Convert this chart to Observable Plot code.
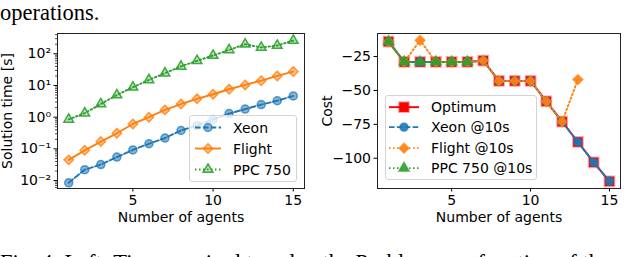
<!DOCTYPE html>
<html><head><meta charset="utf-8">
<script src="https://cdn.jsdelivr.net/npm/d3@7"></script>
<script src="https://cdn.jsdelivr.net/npm/@observablehq/plot@0.6"></script>
<style>
body{margin:0;background:#fff;}
#page{position:relative;width:640px;height:257px;overflow:hidden;background:#fff;}
.legend{position:absolute;background:rgba(255,255,255,0.8);border:1px solid #d4d4d4;border-radius:3px;font:14px "DejaVu Sans",sans-serif;color:#000;box-sizing:border-box;}
.row{display:flex;align-items:center;white-space:nowrap;}
.row svg{display:block;}
</style></head><body><div id="page"></div>
<script>
// ---------- data ----------
const agents = [1,2,3,4,5,6,7,8,9,10,11,12,13,14,15];
const xeonTime   = [0.0085,0.022,0.032,0.055,0.093,0.145,0.22,0.38,0.55,0.85,1.3,1.8,2.5,3.3,4.7];
const flightTime = [0.045,0.09,0.17,0.31,0.61,1.0,1.7,2.6,3.8,5.3,7.6,10.4,14.2,20,27.5];
const ppcTime    = [0.85,1.34,2.6,5.0,8.8,15,24.5,40,60,88,133,200,158,182,262];
const optimumCost  = [-14,-29,-29,-29,-29,-29,-28,-43,-43,-43,-58,-73,-88,-103,-117];
const xeonCost10   = [-14,-29,-29,-29,-29,-29,-28,-43,-43,-43,-58,-73,-88,-103,-117];
const flightCost10 = [-14,-29,-13,-29,-29,-29,-28,-43,-43,-43,-58,-73,-42];
const ppcCost10    = [-14,-29,-29,-29,-29,-29];
const leftNames  = ["Xeon","Flight","PPC 750"];
const rightNames = ["Optimum","Xeon @10s","Flight @10s","PPC 750 @10s"];
const xTicks = [5,10,15];
const timeTicks = [1e-2,1e-1,1,10,100];
const timeTickLabels = ["10⁻²","10⁻¹","10⁰","10¹","10²"];
const costTicks = [-100,-75,-50,-25];
const costTickLabels = ["−100","−75","−50","−25"];
const topText = "operations.";
const captionText = "Fig. 4: Left: Time required to solve the Problem as a function of the";

// ---------- styles ----------
const BLUE="#1f77b4", ORANGE="#ff7f0e", GREEN="#2ca02c", RED="#ff0000";
const leftStyles = [
  {color:BLUE, symbol:"circle", r:4, dash:"5.5,2.4", fillOpacity:0.55, strokeOpacity:0.7},
  {color:ORANGE, symbol:"diamond2", r:4.2, dash:null, fillOpacity:0.45, strokeOpacity:0.8},
  {color:GREEN, symbol:"triangle", r:3.6, dash:"1.5,2.5", fillOpacity:0.3, strokeOpacity:0.9}
];
const rightStyles = [
  {color:RED, symbol:"square", r:5.4, dash:null, fillOpacity:1, strokeOpacity:0.35, sw:2.2},
  {color:BLUE, symbol:"circle", r:4.2, dash:"5.5,2.4", fillOpacity:0.9, strokeOpacity:0.5},
  {color:ORANGE, symbol:"diamond2", r:4.6, dash:"1.5,2.5", fillOpacity:0.9, strokeOpacity:0.5},
  {color:GREEN, symbol:"triangle", r:4, dash:"1.5,2.5", fillOpacity:0.9, strokeOpacity:0.5}
];

function rows(ys){ return ys.map((y,i)=>({x:agents[i], y})); }
function seriesMarks(data, s){
  return [
    Plot.line(data,{x:"x",y:"y",stroke:s.color,strokeWidth:1.9,strokeDasharray:s.dash||undefined}),
    Plot.dot(data,{x:"x",y:"y",symbol:s.symbol,r:s.r,fill:s.color,fillOpacity:s.fillOpacity,
      stroke:s.color,strokeOpacity:s.strokeOpacity,strokeWidth:s.sw||1.5})
  ];
}
const baseStyle = {fontFamily:"DejaVu Sans", fontSize:"14px", background:"transparent", color:"#000", overflow:"visible"};

// minor log ticks (axis decoration)
const minorTicks = [];
for (let e=-3;e<=2;e++) for (let k=2;k<=9;k++){ const v=k*10**e; if (v>10**-2.25 && v<10**2.64) minorTicks.push(v); }

const left = Plot.plot({
  width:320, height:230, marginLeft:57, marginRight:16, marginTop:33, marginBottom:42,
  style:baseStyle,
  x:{domain:[0.3,15.7]},
  y:{type:"log", domain:[10**-2.25, 10**2.64]},
  marks:[
    Plot.axisY(minorTicks,{tickSize:2, strokeWidth:0.7, tickFormat:()=>"", label:null}),
    Plot.axisY({ticks:timeTicks, tickSize:3.5, tickPadding:3, tickFormat:d=>timeTickLabels[timeTicks.indexOf(d)],
      label:"Solution time [s]", labelAnchor:"center", labelArrow:"none", labelOffset:55}),
    Plot.axisX({ticks:xTicks, tickSize:3.5, tickPadding:3, label:"Number of agents", labelAnchor:"center", labelArrow:"none", labelOffset:33}),
    ...seriesMarks(rows(xeonTime), leftStyles[0]),
    ...seriesMarks(rows(flightTime), leftStyles[1]),
    ...seriesMarks(rows(ppcTime), leftStyles[2]),
    Plot.frame({stroke:"#222", strokeWidth:1})
  ]
});
const right = Plot.plot({
  width:320, height:230, marginLeft:57, marginRight:20, marginTop:33, marginBottom:42,
  style:baseStyle,
  x:{domain:[0.3,15.7]},
  y:{domain:[-122.3,-8.0]},
  marks:[
    Plot.axisY({ticks:costTicks, tickSize:3.5, tickPadding:3, tickFormat:d=>costTickLabels[costTicks.indexOf(d)],
      label:"Cost", labelAnchor:"center", labelArrow:"none", labelOffset:55}),
    Plot.axisX({ticks:xTicks, tickSize:3.5, tickPadding:3, label:"Number of agents", labelAnchor:"center", labelArrow:"none", labelOffset:33}),
    ...seriesMarks(rows(optimumCost), rightStyles[0]),
    ...seriesMarks(rows(xeonCost10), rightStyles[1]),
    ...seriesMarks(rows(flightCost10), rightStyles[2]),
    ...seriesMarks(rows(ppcCost10), rightStyles[3]),
    Plot.frame({stroke:"#222", strokeWidth:1})
  ]
});

const page = document.getElementById("page");
// text around the figure
const ns="http://www.w3.org/2000/svg";
const txt = document.createElementNS(ns,"svg");
txt.setAttribute("width",640); txt.setAttribute("height",257);
txt.style.position="absolute"; txt.style.left="0"; txt.style.top="0";
function addText(s,x,y){ const t=document.createElementNS(ns,"text"); t.setAttribute("x",x); t.setAttribute("y",y);
  t.setAttribute("font-family","Liberation Serif, serif"); t.setAttribute("font-size","22.5px"); t.textContent=s; txt.appendChild(t); }
addText(topText,0,20);
addText(captionText,0,269.5);
page.appendChild(txt);

left.style.position="absolute"; left.style.left="0px"; left.style.top="0px";
right.style.position="absolute"; right.style.left="320px"; right.style.top="0px";
page.appendChild(left); page.appendChild(right);

function legend(names, styles, box){
  const div=document.createElement("div"); div.className="legend";
  Object.assign(div.style,{left:box.x+"px",top:box.y+"px",width:box.w+"px",padding:box.pad+"px 0"});
  names.forEach((n,i)=>{
    const s=styles[i];
    const row=document.createElement("div"); row.className="row"; row.style.height=box.rowH+"px";
    const sw=document.createElementNS(ns,"svg"); sw.setAttribute("width",box.sampleW+box.sx+box.gap); sw.setAttribute("height",box.rowH);
    const cy=box.rowH/2, x0=box.sx, x1=box.sx+box.sampleW;
    const ln=document.createElementNS(ns,"line");
    ln.setAttribute("x1",x0); ln.setAttribute("x2",x1); ln.setAttribute("y1",cy); ln.setAttribute("y2",cy);
    ln.setAttribute("stroke",s.color); ln.setAttribute("stroke-width",1.9); if(s.dash) ln.setAttribute("stroke-dasharray",s.dash);
    sw.appendChild(ln);
    const symMap={circle:d3.symbolCircle,diamond2:d3.symbolDiamond2,triangle:d3.symbolTriangle,square:d3.symbolSquare};
    const p=document.createElementNS(ns,"path");
    p.setAttribute("d",d3.symbol(symMap[s.symbol], Math.PI*s.r*s.r)());
    p.setAttribute("transform",`translate(${(x0+x1)/2},${cy})`);
    p.setAttribute("fill",s.color); p.setAttribute("fill-opacity",s.fillOpacity);
    p.setAttribute("stroke",s.color); p.setAttribute("stroke-opacity",s.strokeOpacity); p.setAttribute("stroke-width",s.sw||1.5);
    sw.appendChild(p);
    row.appendChild(sw);
    const sp=document.createElement("span"); sp.textContent=n; row.appendChild(sp);
    div.appendChild(row);
  });
  page.appendChild(div);
}
legend(leftNames, leftStyles, {x:189,y:115,w:108,pad:1,rowH:21,sx:5,sampleW:26,gap:12});
legend(rightNames, rightStyles, {x:385,y:95,w:152,pad:1,rowH:20.3,sx:3,sampleW:30,gap:12});
</script></body></html>
